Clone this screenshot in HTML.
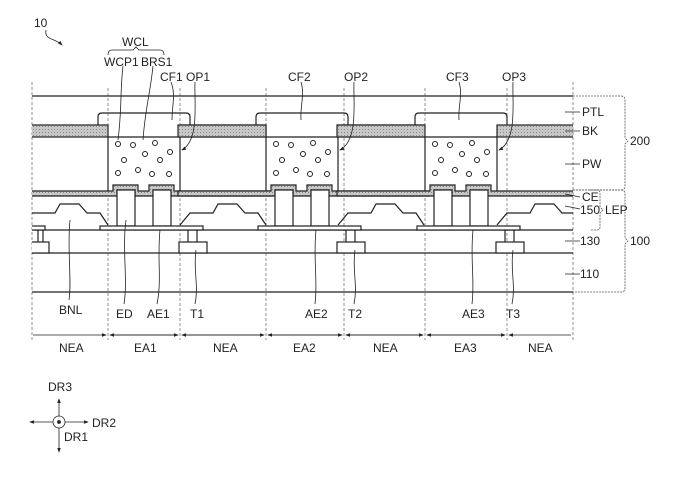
<!DOCTYPE html>
<html><head><meta charset="utf-8"><style>
html,body{margin:0;padding:0;background:#fff;}
svg{display:block;font-family:"Liberation Sans",sans-serif;}
text{font-size:12px;fill:#222;}
</style></head><body>
<svg width="679" height="493" viewBox="0 0 679 493" xmlns="http://www.w3.org/2000/svg">
<defs>
<pattern id="h" width="3" height="3" patternUnits="userSpaceOnUse"><rect width="3" height="3" fill="#c8c8c8"/><rect width="1" height="1" fill="#888"/></pattern>
<clipPath id="c"><rect x="32" y="80" width="541" height="220"/></clipPath>
<marker id="a" markerWidth="6" markerHeight="6" refX="5" refY="3" orient="auto"><path d="M0,0.8 L6,3 L0,5.2z" fill="#222"/></marker>
</defs>
<g stroke="#222" fill="none" stroke-width="1.2">
<!-- dashed verticals -->
<g stroke="#777" stroke-dasharray="3,2" stroke-width="0.8">
<line x1="32" y1="82" x2="32" y2="340"/><line x1="108" y1="88" x2="108" y2="340"/><line x1="180" y1="88" x2="180" y2="340"/><line x1="266" y1="88" x2="266" y2="340"/><line x1="344" y1="88" x2="344" y2="340"/><line x1="425" y1="88" x2="425" y2="340"/><line x1="507" y1="88" x2="507" y2="340"/><line x1="573" y1="82" x2="573" y2="340"/>
</g>
<line x1="32" y1="96" x2="573" y2="96"/>
<line x1="32" y1="230" x2="573" y2="230"/>
<line x1="32" y1="253" x2="573" y2="253"/>
<line x1="32" y1="292" x2="573" y2="292"/>
<g clip-path="url(#c)">
<g id="p">
<path d="M98,125 V117 Q98,113 102,113 H186 Q190,113 190,117 V125"/>
<rect x="20" y="125" width="88" height="12" fill="url(#h)"/>
<rect x="180" y="125" width="86" height="12" fill="url(#h)"/>
<line x1="108" y1="137" x2="180" y2="137"/>
<line x1="108" y1="137" x2="108" y2="191"/><line x1="180" y1="137" x2="180" y2="191"/>
<g stroke-width="1">
<circle cx="118" cy="144" r="2.5"/><circle cx="133" cy="145" r="2.5"/><circle cx="155" cy="143" r="2.5"/><circle cx="170" cy="152" r="2.5"/><circle cx="145" cy="154" r="2.5"/><circle cx="124" cy="160" r="2.5"/><circle cx="160" cy="160" r="2.5"/><circle cx="138" cy="170" r="2.5"/><circle cx="118" cy="173" r="2.5"/><circle cx="152" cy="174" r="2.5"/><circle cx="169" cy="174" r="2.5"/>
</g>
<path d="M20,191 H113 V185 H138 V191 H149 V185 H174 V191 H271 V196 H170 V190 H153 V196 H135 V190 H117 V196 H20Z" fill="url(#h)"/>
<rect x="117" y="190" width="18" height="36" fill="#fff"/>
<rect x="153" y="190" width="18" height="36" fill="#fff"/>
<rect x="100" y="226" width="103" height="4" fill="#fff"/>
<path d="M188,230 V242 M197,230 V242"/>
<rect x="179" y="242" width="28" height="11" fill="#fff"/>
<path d="M180,225 L190,213 H213 L218,204 H237 L245,213 H258 L266,225"/>
</g>
<use href="#p" x="158"/><use href="#p" x="317"/>
<path d="M22,225 L32,213 H55 L60,204 H79 L87,213 H100 L108,225"/>
<rect x="21" y="226" width="24" height="4" fill="#fff"/>
<path d="M38,230 V242 M43,230 V242"/>
<rect x="21" y="242" width="28" height="11" fill="#fff"/>
</g>
<!-- right braces -->
<g stroke="#555" stroke-width="0.8" stroke-dasharray="2,1">
<path d="M573,96 H621 Q625,96 625,100 V138 L628,141 L625,144 V186 Q625,190 621,190 H573"/>
<path d="M573,190 H621 Q625,190 625,194 V238 L628,241 L625,244 V288 Q625,292 621,292 H573"/>
<path d="M590,190 H597 Q600,190 600,193 V207 L603,210 L600,213 V227 Q600,230 597,230 H590"/>
</g>
<g stroke-width="0.8">
<path d="M565,112 H580 M565,131 H580 M565,164 H580 M565,241 H580 M565,274 H580 M565,194 L580,197 M565,206 L580,209"/>
<!-- bottom dims -->
<line x1="33" y1="335" x2="106" y2="335" marker-end="url(#a)"/>
<line x1="110" y1="335" x2="178" y2="335" marker-end="url(#a)"/><line x1="178" y1="335" x2="110" y2="335" marker-end="url(#a)"/>
<line x1="182" y1="335" x2="264" y2="335" marker-end="url(#a)"/><line x1="264" y1="335" x2="182" y2="335" marker-end="url(#a)"/>
<line x1="268" y1="335" x2="342" y2="335" marker-end="url(#a)"/><line x1="342" y1="335" x2="268" y2="335" marker-end="url(#a)"/>
<line x1="346" y1="335" x2="423" y2="335" marker-end="url(#a)"/><line x1="423" y1="335" x2="346" y2="335" marker-end="url(#a)"/>
<line x1="427" y1="335" x2="505" y2="335" marker-end="url(#a)"/><line x1="505" y1="335" x2="427" y2="335" marker-end="url(#a)"/>
<line x1="571" y1="335" x2="509" y2="335" marker-end="url(#a)"/>
<!-- leaders -->
<path d="M123,66 C120,90 122,110 118,140"/>
<path d="M153,66 C150,95 145,110 143,140"/>
<path d="M171,82 C176,95 172,105 172,120"/>
<path d="M195,82 C194,100 200,140 182,150" marker-end="url(#a)"/>
<path d="M301,82 C305,95 300,105 301,120"/>
<path d="M354,82 C353,100 359,140 340,150" marker-end="url(#a)"/>
<path d="M459,82 C463,95 458,105 459,120"/>
<path d="M513,82 C512,100 518,140 499,150" marker-end="url(#a)"/>
<path d="M70,220 C67,250 72,280 69,300"/>
<path d="M126,220 C122,250 128,280 124,304"/>
<path d="M160,230 C157,260 162,280 157,304"/>
<path d="M196,250 C193,270 199,285 195,304"/>
<path d="M316,230 C313,260 318,280 315,304"/>
<path d="M355,250 C352,270 358,285 354,304"/>
<path d="M473,230 C470,260 475,280 472,304"/>
<path d="M513,250 C510,270 516,285 512,304"/>
<path d="M46,30 C44,40 55,38 62,45" marker-end="url(#a)"/>
<path d="M108,55 Q108,50 112,50 H133 L136,47 L139,50 H160 Q164,50 164,55"/>
<!-- compass -->
<circle cx="59" cy="422" r="6"/>
<circle cx="59" cy="422" r="1.5" fill="#222"/>
<line x1="59" y1="416" x2="59" y2="399" marker-end="url(#a)"/>
<line x1="59" y1="428" x2="59" y2="452" marker-end="url(#a)"/>
<line x1="53" y1="422" x2="30" y2="422" marker-end="url(#a)"/>
<line x1="65" y1="422" x2="88" y2="422" marker-end="url(#a)"/>
</g>
</g>
<g>
<text x="34" y="27">10</text>
<text x="122" y="46">WCL</text>
<text x="104" y="66">WCP1</text>
<text x="141" y="66">BRS1</text>
<text x="160" y="81">CF1</text>
<text x="186" y="81">OP1</text>
<text x="288" y="81">CF2</text>
<text x="344" y="81">OP2</text>
<text x="446" y="81">CF3</text>
<text x="502" y="81">OP3</text>
<text x="582" y="116">PTL</text>
<text x="582" y="135">BK</text>
<text x="582" y="168">PW</text>
<text x="582" y="201">CE</text>
<text x="580" y="214">150</text>
<text x="605" y="214">LEP</text>
<text x="580" y="245">130</text>
<text x="580" y="278">110</text>
<text x="630" y="145">200</text>
<text x="630" y="245">100</text>
<text x="59" y="314">BNL</text>
<text x="116" y="318">ED</text>
<text x="147" y="318">AE1</text>
<text x="190" y="318">T1</text>
<text x="305" y="318">AE2</text>
<text x="348" y="318">T2</text>
<text x="462" y="318">AE3</text>
<text x="506" y="318">T3</text>
<text x="59" y="352">NEA</text>
<text x="134" y="352">EA1</text>
<text x="213" y="352">NEA</text>
<text x="293" y="352">EA2</text>
<text x="373" y="352">NEA</text>
<text x="454" y="352">EA3</text>
<text x="528" y="352">NEA</text>
<text x="48" y="391">DR3</text>
<text x="92" y="427">DR2</text>
<text x="64" y="441">DR1</text>
</g>
</svg>
</body></html>
